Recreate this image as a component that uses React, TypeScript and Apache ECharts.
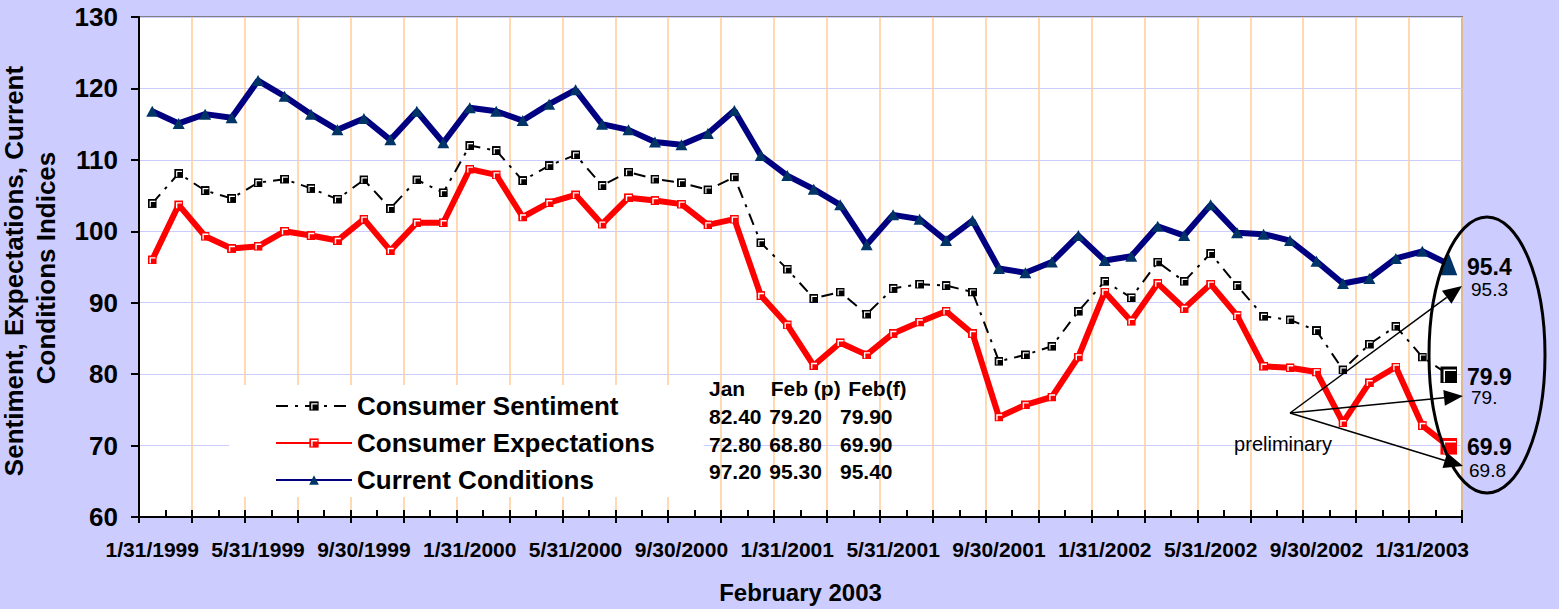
import React, { useEffect, useRef } from "react";
import * as echarts from "echarts";

const FONT = '"Liberation Sans", Arial, Helvetica, sans-serif';

const categories = [
  "1/31/1999", "2/28/1999", "3/31/1999", "4/30/1999", "5/31/1999", "6/30/1999",
  "7/31/1999", "8/31/1999", "9/30/1999", "10/31/1999", "11/30/1999", "12/31/1999",
  "1/31/2000", "2/29/2000", "3/31/2000", "4/30/2000", "5/31/2000", "6/30/2000",
  "7/31/2000", "8/31/2000", "9/30/2000", "10/31/2000", "11/30/2000", "12/31/2000",
  "1/31/2001", "2/28/2001", "3/31/2001", "4/30/2001", "5/31/2001", "6/30/2001",
  "7/31/2001", "8/31/2001", "9/30/2001", "10/31/2001", "11/30/2001", "12/31/2001",
  "1/31/2002", "2/28/2002", "3/31/2002", "4/30/2002", "5/31/2002", "6/30/2002",
  "7/31/2002", "8/31/2002", "9/30/2002", "10/31/2002", "11/30/2002", "12/31/2002",
  "1/31/2003", "2/28/2003",
];

const sentiment = [
  103.9, 108.1, 105.7, 104.6, 106.8, 107.3, 106.0, 104.5, 107.2, 103.2, 107.2, 105.4,
  112.0, 111.3, 107.1, 109.2, 110.7, 106.4, 108.3, 107.3, 106.8, 105.8, 107.6, 98.4,
  94.7, 90.6, 91.5, 88.4, 92.0, 92.6, 92.4, 91.5, 81.8, 82.7, 83.9, 88.8,
  93.0, 90.7, 95.7, 93.0, 96.9, 92.4, 88.1, 87.6, 86.1, 80.6, 84.2, 86.7,
  82.4, 79.9,
];

const expectations = [
  96.0, 103.7, 99.3, 97.6, 97.9, 100.0, 99.4, 98.7, 101.7, 97.3, 101.2, 101.2,
  108.7, 107.9, 102.0, 104.0, 105.1, 101.0, 104.7, 104.3, 103.8, 100.9, 101.7, 91.0,
  86.9, 81.2, 84.4, 82.7, 85.7, 87.3, 88.8, 85.7, 74.0, 75.7, 76.8, 82.4,
  91.5, 87.4, 92.7, 89.2, 92.6, 88.2, 81.1, 80.9, 80.3, 73.2, 78.8, 81.0,
  72.8, 69.9,
];

const current = [
  116.8, 115.1, 116.4, 115.9, 121.1, 118.9, 116.4, 114.2, 115.8, 112.8, 116.8, 112.4,
  117.3, 116.8, 115.5, 117.8, 119.8, 115.0, 114.2, 112.5, 112.1, 113.7, 116.9, 110.6,
  107.8, 105.9, 103.7, 98.1, 102.3, 101.7, 98.7, 101.5, 94.8, 94.2, 95.7, 99.4,
  95.9, 96.5, 100.7, 99.4, 103.7, 99.8, 99.6, 98.7, 95.8, 92.7, 93.4, 96.2,
  97.2, 95.4,
];

const seriesNames = ["Consumer Sentiment", "Consumer Expectations", "Current Conditions"];

const tableHeader = ["Jan", "Feb (p)", "Feb(f)"];
const tableRows = [
  ["82.40", "79.20", "79.90"],
  ["72.80", "68.80", "69.90"],
  ["97.20", "95.30", "95.40"],
];

const finalLabels = ["95.4", "79.9", "69.9"];
const prelimLabels = ["95.3", "79.", "69.8"];

function marker(fill: string, size: number, inset: number, sw: number) {
  const svg =
    `<svg xmlns="http://www.w3.org/2000/svg" width="${size}" height="${size}" viewBox="0 0 ${size} ${size}">` +
    `<rect x="0" y="0" width="${size}" height="${size}" fill="${fill}"/>` +
    `<polyline points="${inset},${size - 1.2} ${inset},${inset} ${size - 1.2},${inset}" fill="none" stroke="#ffffff" stroke-width="${sw}"/>` +
    `</svg>`;
  return "image://data:image/svg+xml;base64," + btoa(svg);
}

function txt(text: string, x: number, y: number, size: number, bold: boolean, align = "left", rotation = 0) {
  return {
    type: "text",
    x,
    y,
    rotation,
    z: 100,
    style: {
      text,
      fill: "#000",
      fontSize: size,
      fontWeight: bold ? "bold" : "normal",
      fontFamily: FONT,
      align,
      verticalAlign: "middle",
      textAlign: align,
      textVerticalAlign: "middle",
    },
  };
}

function arrow(x1: number, y1: number, x2: number, y2: number, len = 19, half = 8) {
  const dx = x2 - x1;
  const dy = y2 - y1;
  const L = Math.hypot(dx, dy);
  const ux = dx / L;
  const uy = dy / L;
  const bx = x2 - ux * len;
  const by = y2 - uy * len;
  return [
    {
      type: "line",
      z: 100,
      shape: { x1, y1, x2: bx, y2: by },
      style: { stroke: "#000", lineWidth: 1.5 },
    },
    {
      type: "polygon",
      z: 100,
      shape: {
        points: [
          [x2, y2],
          [bx - uy * half, by + ux * half],
          [bx + uy * half, by - ux * half],
        ],
      },
      style: { fill: "#000" },
    },
  ];
}

export default function App() {
  const ref = useRef<HTMLDivElement>(null);

  useEffect(() => {
    if (!ref.current) return;
    const chart = echarts.init(ref.current, null, { renderer: "svg" });
    const last = categories.length - 1;

    const blackSmall = marker("#000000", 9, 2.5, 1.2);
    const blackBig = marker("#000000", 17, 4, 1.5);
    const redSmall = marker("#ff0000", 9, 2.5, 1.4);
    const redBig = marker("#ff0000", 17, 4, 1.6);

    const sentimentData = sentiment.map((v, i) =>
      i === last ? { value: v, symbol: blackBig, symbolSize: 17 } : v
    );
    const expectationsData = expectations.map((v, i) =>
      i === last ? { value: v, symbol: redBig, symbolSize: 17 } : v
    );
    const currentData = current.map((v, i) =>
      i === last ? { value: v, symbolSize: [17, 22] } : v
    );

    const headerX = [709, 770.7, 848.3];
    const valueX = [709, 769.3, 840];
    const rowY = [416, 444, 471.7];

    const graphics: any[] = [
      txt("Sentiment, Expectations, Current", 13.5, 271, 26, true, "center", Math.PI / 2),
      txt("Conditions Indices", 46, 268, 26, true, "center", Math.PI / 2),
      ...tableHeader.map((h, j) => txt(h, headerX[j], 388.3, 21, true)),
      ...tableRows.flatMap((row, r) => row.map((c, j) => txt(c, valueX[j], rowY[r], 21, true))),
      txt(finalLabels[0], 1467, 266.5, 23, true),
      txt(prelimLabels[0], 1471, 289, 19, false),
      txt(finalLabels[1], 1467, 376.5, 23, true),
      txt(prelimLabels[1], 1471, 397, 19, false),
      txt(finalLabels[2], 1467, 447, 23, true),
      txt(prelimLabels[2], 1469, 470, 19, false),
      txt("preliminary", 1283, 444, 20, false, "center"),
      ...arrow(1290, 413, 1462, 286),
      ...arrow(1290, 413, 1463, 396),
      ...arrow(1290, 413, 1463, 466),
      {
        type: "ellipse",
        z: 100,
        shape: { cx: 1487, cy: 355, rx: 58, ry: 138 },
        style: { fill: "none", stroke: "#000", lineWidth: 3 },
      },
    ];

    chart.setOption({
      animation: false,
      backgroundColor: "#CCCCFF",
      textStyle: { fontFamily: FONT },
      grid: {
        left: 139,
        right: 97,
        top: 17,
        bottom: 90,
        show: true,
        backgroundColor: "#ffffff",
        borderColor: "#808080",
        borderWidth: 2,
      },
      legend: {
        orient: "vertical",
        left: 229,
        top: 385,
        backgroundColor: "#ffffff",
        padding: [6, 49, 2, 46],
        itemWidth: 76,
        itemHeight: 12,
        itemGap: 7,
        selectedMode: false,
        data: seriesNames,
        textStyle: {
          fontSize: 26,
          fontWeight: "bold",
          color: "#000",
          fontFamily: FONT,
          lineHeight: 30,
        },
      },
      xAxis: [
        {
          type: "category",
          data: categories,
          boundaryGap: true,
          position: "bottom",
          axisLine: { show: true, lineStyle: { color: "#000", width: 2 } },
          axisTick: { show: true, inside: true, length: 7, interval: 0, lineStyle: { color: "#000", width: 2 } },
          axisLabel: {
            interval: 3,
            margin: 22,
            fontSize: 21,
            fontWeight: "bold",
            color: "#000",
            fontFamily: FONT,
          },
          splitLine: { show: false },
          name: "February 2003",
          nameLocation: "middle",
          nameGap: 63,
          nameTextStyle: { fontSize: 24, fontWeight: "bold", color: "#000", fontFamily: FONT },
        },
        {
          type: "category",
          data: categories,
          boundaryGap: true,
          position: "bottom",
          offset: 0,
          axisLine: { show: false },
          axisLabel: { show: false },
          axisTick: { show: true, inside: false, length: 6, interval: 1, lineStyle: { color: "#000", width: 2 } },
          splitLine: { show: true, interval: 1, lineStyle: { color: "#FFCC99", width: 1.5 } },
        },
      ],
      yAxis: {
        type: "value",
        min: 60,
        max: 130,
        interval: 10,
        axisLine: { show: true, lineStyle: { color: "#000", width: 2 } },
        axisTick: { show: true, length: 8, lineStyle: { color: "#000", width: 2 } },
        axisLabel: { margin: 21, fontSize: 26, fontWeight: "bold", color: "#000", fontFamily: FONT },
        splitLine: { show: true, lineStyle: { color: "#CCCCFF", width: 1 } },
      },
      series: [
        {
          name: seriesNames[0],
          type: "line",
          data: sentimentData,
          symbol: blackSmall,
          symbolSize: 9,
          showAllSymbol: true,
          itemStyle: { color: "#000" },
          lineStyle: { color: "#000", width: 2, type: [12, 7, 3, 7] },
          emphasis: { disabled: true },
          z: 3,
        },
        {
          name: seriesNames[1],
          type: "line",
          data: expectationsData,
          symbol: redSmall,
          symbolSize: 9,
          showAllSymbol: true,
          itemStyle: { color: "#ff0000" },
          lineStyle: { color: "#ff0000", width: 6 },
          emphasis: { disabled: true },
          z: 4,
        },
        {
          name: seriesNames[2],
          type: "line",
          data: currentData,
          symbol: "triangle",
          symbolSize: [12, 11],
          showAllSymbol: true,
          itemStyle: { color: "#003366" },
          lineStyle: { color: "#000080", width: 6 },
          emphasis: { disabled: true },
          z: 5,
        },
      ],
      graphic: graphics,
    });

    return () => chart.dispose();
  }, []);

  return (
    <div
      ref={ref}
      style={{ position: "absolute", left: 0, top: 0, width: 1559, height: 609 }}
    />
  );
}
